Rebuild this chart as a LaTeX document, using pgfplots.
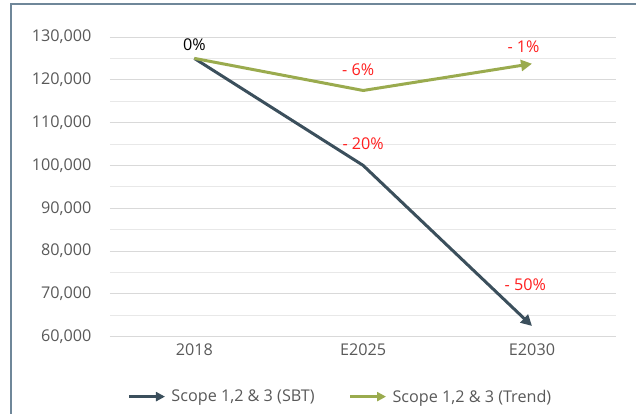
\documentclass[border=0pt]{standalone}
\usepackage{pgfplots}
\pgfplotsset{compat=1.18}
\usepackage{fontspec}
\setmainfont{Open Sans}
\usetikzlibrary{arrows.meta}
\definecolor{sbt}{HTML}{3B4F5C}
\definecolor{trend}{HTML}{9AAB4E}
\definecolor{frame}{HTML}{6F8799}
\definecolor{tick}{HTML}{595959}
\definecolor{grid}{HTML}{D9D9D9}
\definecolor{lbl}{HTML}{FF1F1F}
\newcommand\fs{\fontsize{16.2}{19}\selectfont}

\begin{document}
\begin{tikzpicture}
\path (0,0) rectangle (637pt,414pt);
\draw[frame, line width=1.2pt] (11pt,0) -- (11pt,410pt) -- (637pt,410pt);
\begin{axis}[
  at={(110pt,77pt)}, anchor=south west,
  scale only axis, width=507pt, height=300pt,
  xmin=-0.5, xmax=2.5, ymin=60000, ymax=130000,
  xtick={0,1,2}, xticklabels={2018,E2025,E2030},
  ytick={60000,70000,...,130000},
  scaled y ticks=false,
  minor y tick num=1,
  ymajorgrids, yminorgrids,
  grid style={draw=grid, line width=0.9pt},
  minor grid style={draw=grid!60, line width=0.9pt},
  axis line style={draw=none}, tick style={draw=none},
  ticklabel style={font=\fs, text=tick},
  xticklabel style={yshift=-4pt},
  yticklabel style={xshift=-15pt},
  /pgf/number format/.cd, fixed, 1000 sep={,}, assume math mode=true,
  /pgfplots/.cd,
  legend columns=2,
  legend style={at={(0.455,-0.2)}, anchor=center, draw=none, fill=none,
    font=\fs, text=tick,
    /tikz/every odd column/.append style={column sep=3pt},
    /tikz/every even column/.append style={column sep=32pt}},
  legend image code/.code={\draw[#1, line width=3pt, -{Triangle[length=9pt,width=9pt]}] (0pt,0pt) -- (36pt,0pt);},
  clip=false,
]
\addplot[sbt, line width=3pt, -{Triangle[length=11pt,width=11pt]}] coordinates {(0,125000) (1,100000) (2,62500)};
\addlegendentry{Scope 1,2 \& 3 (SBT)}
\addplot[trend, line width=3pt, -{Triangle[length=11pt,width=11pt]}] coordinates {(0,125000) (1,117500) (2,123750)};
\addlegendentry{Scope 1,2 \& 3 (Trend)}
\node[font=\fs, text=black] at (axis cs:0,128100) {0\%};
\node[font=\fs, text=lbl] at (axis cs:0.97,122300) {- 6\%};
\node[font=\fs, text=lbl] at (axis cs:1.0,105000) {- 20\%};
\node[font=\fs, text=lbl] at (axis cs:1.95,127700) {- 1\%};
\node[font=\fs, text=lbl] at (axis cs:1.96,72100) {- 50\%};
\end{axis}
\end{tikzpicture}
\end{document}
